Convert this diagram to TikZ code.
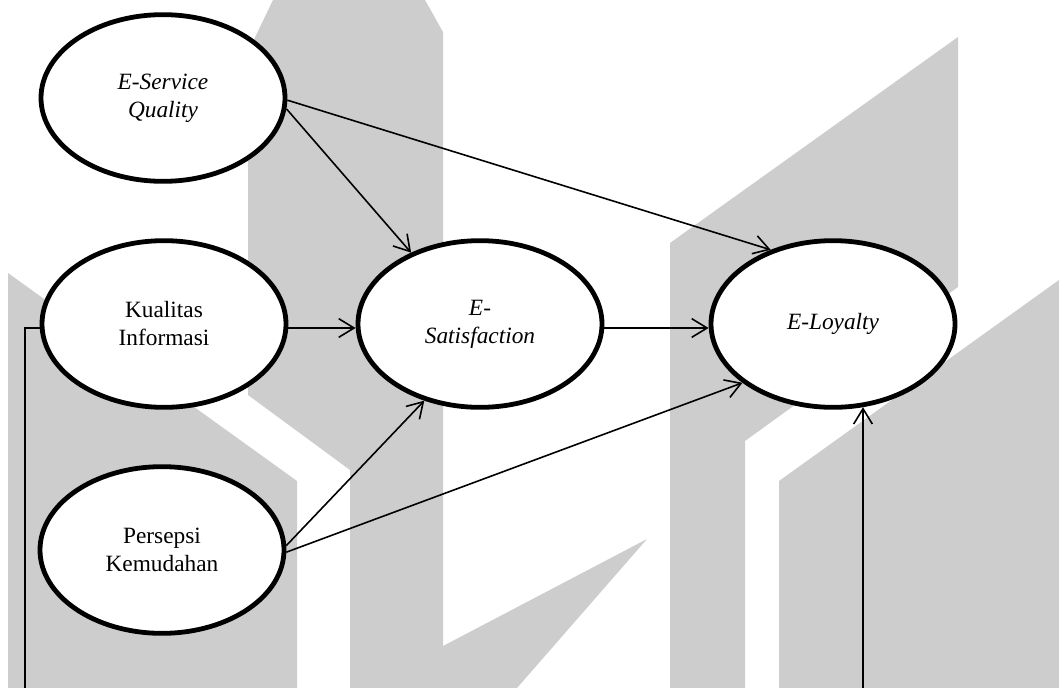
\documentclass[tikz,border=0pt]{standalone}
\usepackage{fontspec}
\setmainfont{Liberation Serif}
\usetikzlibrary{arrows.meta,shapes.geometric}
\definecolor{wm}{RGB}{205,205,205}
\begin{document}
\begin{tikzpicture}[x=0.75pt,y=-0.75pt,
  latent/.style={ellipse,draw=black,fill=white,line width=3.6pt,
    minimum width=183pt,minimum height=125pt,inner sep=0pt,align=center,
    font=\fontsize{17.5pt}{21pt}\selectfont},
  latentit/.style={latent,font=\fontsize{17.5pt}{21pt}\selectfont\itshape},
  arr/.style={line width=1.2pt,-{Straight Barb[length=11.5pt,width=14pt]}},
  link/.style={line width=1.2pt}]
\useasboundingbox (0,0) rectangle (1059,688);
% background logo shapes
\fill[wm] (8,273) -- (297,481) -- (297,688) -- (8,688) -- cycle;
\fill[wm] (248,52) -- (273,0) -- (350,0) -- (350,470) -- (248,395) -- cycle;
\fill[wm] (350,0) -- (425,0) -- (443,32) -- (443,688) -- (350,688) -- cycle;
\fill[wm] (443,646) -- (647,539) -- (517,688) -- (443,688) -- cycle;
\fill[wm] (670,243) -- (958,37) -- (958,287) -- (745,441) -- (745,688) -- (670,688) -- cycle;
\fill[wm] (779,481) -- (1059,280) -- (1059,688) -- (779,688) -- cycle;
% constructs
\node[latentit] (esq) at (163,98) {E-Service\\Quality};
\node[latent] (ki) at (164,324) {Kualitas\\Informasi};
\node[latent] (pk) at (162,550) {Persepsi\\Kemudahan};
\node[latentit] (es) at (480,324) {E-\\Satisfaction};
\node[latentit] (el) at (833,324) {E-Loyalty};
% open ends continuing below
\coordinate (lb) at (25,688);
\coordinate (rb) at (863,688);
% paths
\draw[arr] (esq.-5) -- (es.134);
\draw[arr] (esq.-1) -- (el.130);
\draw[arr] ([yshift=-4*0.75pt]ki.east) -- ([yshift=-4*0.75pt]es.west);
\draw[arr] ([yshift=-4*0.75pt]es.east) -- ([yshift=-4*0.75pt]el.west);
\draw[arr] (pk.2) -- (es.-126);
\draw[arr] (pk.-1) -- (el.-147);
\draw[link] ([yshift=-4*0.75pt]ki.west) -| (lb);
\draw[arr] (rb) -- (rb |- el.-70);
\end{tikzpicture}
\end{document}
